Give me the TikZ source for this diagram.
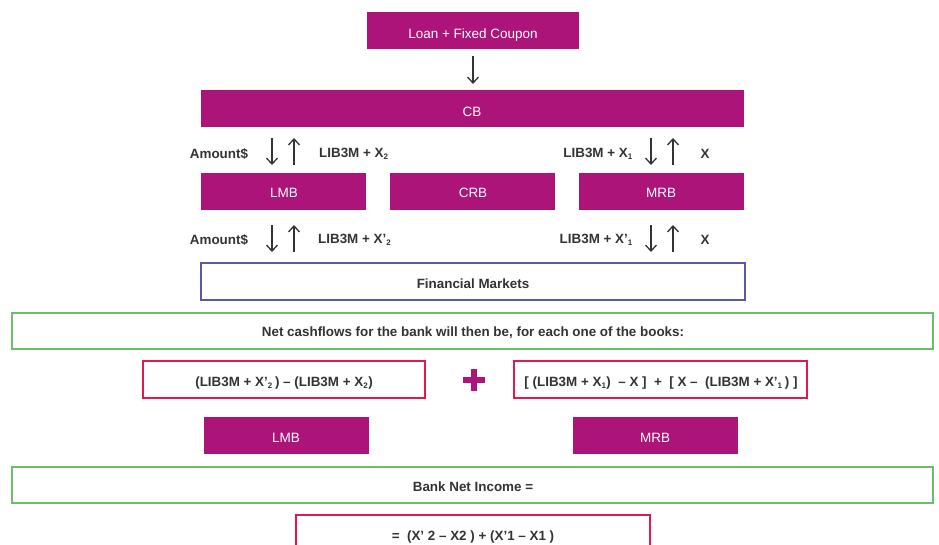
\documentclass[tikz,border=0pt]{standalone}
\usepackage{fontspec}
\setmainfont{Liberation Sans}
\usetikzlibrary{arrows.meta}
\definecolor{mag}{HTML}{AC1479}
\definecolor{redb}{HTML}{E2184F}
\definecolor{greenb}{HTML}{6DBE6B}
\definecolor{blueb}{HTML}{5A58A6}
\definecolor{txt}{HTML}{333333}
\tikzset{
  magbox/.style={fill=mag, draw=none},
  magtxt/.style={text=white, font=\fontsize{13.5}{15}\selectfont, anchor=base, inner sep=0pt},
  outbox/.style={draw=#1, line width=1.6pt, fill=white},
  boxtxt/.style={text=txt, font=\bfseries\fontsize{13.4}{15}\selectfont, anchor=base, inner sep=0pt},
  lbl/.style={text=txt, font=\bfseries\fontsize{13.4}{15}\selectfont, inner sep=0pt},
  flow/.style={draw=txt, line width=1.3pt, -{Straight Barb[length=6pt,width=11pt,line width=1.3pt]}},
}
\newcommand{\sbs}[1]{\textsubscript{\fontsize{8}{8}\selectfont #1}}
\begin{document}
\begin{tikzpicture}[x=1pt,y=-1pt]
\clip (0,0) rectangle (939,544);
\useasboundingbox (0,0) rectangle (939,544);
\fill[white] (0,0) rectangle (939,544);

% magenta boxes
\fill[magbox] (367,12) rectangle (579,49);
\node[magtxt] (loan) at (473,38) {Loan + Fixed Coupon};
\fill[magbox] (201,90) rectangle (744,127);
\node[magtxt] (cb) at (472,116) {CB};
\fill[magbox] (201,173) rectangle (366,210);
\node[magtxt] (lmb) at (284,197) {LMB};
\fill[magbox] (390,173) rectangle (555,210);
\node[magtxt] (crb) at (473,197) {CRB};
\fill[magbox] (579,173) rectangle (744,210);
\node[magtxt] (mrb) at (661,197) {MRB};

\coordinate (loanb) at (473,56);
\coordinate (cbt) at (473,84);
\draw[flow] (loanb) -- (cbt);

% row 1
\node[lbl] (am1) at (219,154) {Amount\$};
\coordinate (d1a) at (272,138); \coordinate (d1b) at (272,165);
\coordinate (u1a) at (294,165); \coordinate (u1b) at (294,138);
\draw[flow] (d1a) -- (d1b);
\draw[flow] (u1a) -- (u1b);
\node[lbl, anchor=west] (l1) at (319,154) {LIB3M + X\sbs{2}};

\node[lbl, anchor=east] (r1) at (633,154) {LIB3M + X\sbs{1}};
\coordinate (d2a) at (651,138); \coordinate (d2b) at (651,165);
\coordinate (u2a) at (673,165); \coordinate (u2b) at (673,138);
\draw[flow] (d2a) -- (d2b);
\draw[flow] (u2a) -- (u2b);
\node[lbl] (x1) at (705,154) {X};

% row 2
\node[lbl] (am2) at (219,240) {Amount\$};
\coordinate (d3a) at (272,225); \coordinate (d3b) at (272,252);
\coordinate (u3a) at (294,252); \coordinate (u3b) at (294,225);
\draw[flow] (d3a) -- (d3b);
\draw[flow] (u3a) -- (u3b);
\node[lbl, anchor=west] (l2) at (318,240) {LIB3M + X’\sbs{2}};

\node[lbl, anchor=east] (r2) at (633,240) {LIB3M + X’\sbs{1}};
\coordinate (d4a) at (651,225); \coordinate (d4b) at (651,252);
\coordinate (u4a) at (673,252); \coordinate (u4b) at (673,225);
\draw[flow] (d4a) -- (d4b);
\draw[flow] (u4a) -- (u4b);
\node[lbl] (x2) at (705,240) {X};

% financial markets
\draw[outbox=blueb] (201,263) rectangle (745,300);
\node[boxtxt] (fm) at (473,288) {Financial Markets};

% green box 1
\draw[outbox=greenb] (12,313) rectangle (933,349);
\node[boxtxt] (net) at (473,336) {Net cashflows for the bank will then be, for each one of the books:};

% red boxes
\draw[outbox=redb] (143,361) rectangle (425,398);
\node[boxtxt] (eq1) at (284,386) {(LIB3M + X’\sbs{2}\,) – (LIB3M + X\sbs{2})};
\draw[outbox=redb] (514,361) rectangle (807,398);
\node[boxtxt] (eq2) at (661,386) {[ (LIB3M + X\sbs{1})~ – X ]~ + ~[ X – ~(LIB3M + X’\sbs{1}\,) ]};
\fill[mag] (471,369) rectangle (477,391);
\fill[mag] (463,377) rectangle (485,383);

\fill[magbox] (204,417) rectangle (369,454);
\node[magtxt] (lmb2) at (286,442) {LMB};
\fill[magbox] (573,417) rectangle (738,454);
\node[magtxt] (mrb2) at (655,442) {MRB};

% green box 2
\draw[outbox=greenb] (12,467) rectangle (933,503);
\node[boxtxt] (bni) at (473,491) {Bank Net Income =};

% red box 3
\draw[outbox=redb] (296,515) rectangle (650,556);
\node[boxtxt] (eq3) at (473,540) {=~ (X’ 2 – X2 ) + (X’1 – X1 )};
\end{tikzpicture}
\end{document}
